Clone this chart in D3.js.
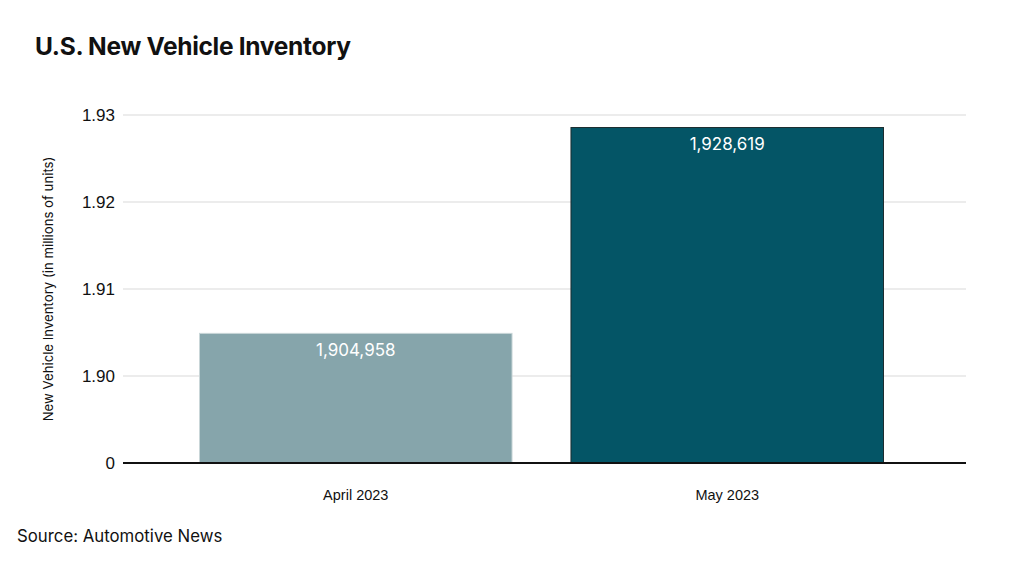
<!DOCTYPE html>
<html>
<head>
<meta charset="utf-8">
<script src="https://cdn.jsdelivr.net/npm/d3@7"></script>
<style>
  body { margin: 0; background: #fff; }
  svg { display: block; font-family: Inter, "Liberation Sans", Arial, sans-serif; }
  .grid line { stroke: #d9d9d9; stroke-width: 1; }
  .yAxis text { font-size: 17px; fill: #111; }
  .xAxis text { font-size: 14.5px; font-weight: 500; fill: #111; }
</style>
</head>
<body>
<div id="chart"></div>
<script>
// data
var categories = ["April 2023", "May 2023"];
var inventory = [1904958, 1928619];
var barColors = ["#86a5ab", "#045566"];
var barStrokes = ["#c9d6d8", "#1d2d30"];
// broken axis: the bottom tick (1.89) is printed as "0"
var tickValues = [1.89, 1.90, 1.91, 1.92, 1.93];
var tickLabels = ["0", "1.90", "1.91", "1.92", "1.93"];

var W = 1024, H = 565;
var plot = { left: 123, right: 966, top: 115, bottom: 463 };

var svg = d3.select("#chart").append("svg")
  .attr("width", W).attr("height", H);

var y = d3.scaleLinear().domain([1.89, 1.93]).range([plot.bottom, plot.top]);
var x = d3.scaleBand().domain(categories)
  .range([161.85, 921.15]).paddingInner(0.156).paddingOuter(0.1);

// gridlines
svg.append("g").attr("class", "grid")
  .selectAll("line")
  .data(tickValues.slice(1))
  .enter().append("line")
  .attr("x1", plot.left).attr("x2", plot.right)
  .attr("y1", function(d) { return y(d); })
  .attr("y2", function(d) { return y(d); });

// bars
svg.append("g").selectAll("rect")
  .data(categories)
  .enter().append("rect")
  .attr("x", function(d) { return x(d) + 0.5; })
  .attr("y", function(d, i) { return y(inventory[i] / 1e6) + 0.5; })
  .attr("width", x.bandwidth() - 1)
  .attr("height", function(d, i) { return y(1.89) - y(inventory[i] / 1e6) - 0.5; })
  .attr("fill", function(d, i) { return barColors[i]; })
  .attr("stroke", function(d, i) { return barStrokes[i]; })
  .attr("stroke-width", 1);

// value labels
svg.append("g").selectAll("text")
  .data(categories)
  .enter().append("text")
  .attr("x", function(d) { return x(d) + x.bandwidth() / 2; })
  .attr("y", function(d, i) { return y(inventory[i] / 1e6) + 23; })
  .attr("text-anchor", "middle")
  .attr("font-size", 17)
  .attr("fill", "#fff")
  .text(function(d, i) { return d3.format(",")(inventory[i]); });

// baseline
svg.append("line")
  .attr("x1", plot.left).attr("x2", plot.right)
  .attr("y1", plot.bottom).attr("y2", plot.bottom)
  .attr("stroke", "#111").attr("stroke-width", 2);

// y axis labels
var yAxis = svg.append("g").attr("class", "yAxis")
  .attr("transform", "translate(" + plot.left + ",0)")
  .call(d3.axisLeft(y).tickValues(tickValues).tickSize(0).tickPadding(8)
    .tickFormat(function(d, i) { return tickLabels[i]; }));
yAxis.select(".domain").remove();
yAxis.selectAll("text").attr("font-family", null);

// x axis labels
var xAxis = svg.append("g").attr("class", "xAxis")
  .attr("transform", "translate(0," + plot.bottom + ")")
  .call(d3.axisBottom(x).tickSize(0).tickPadding(27));
xAxis.select(".domain").remove();
xAxis.selectAll("text").attr("font-family", null);

// y axis title
svg.append("text")
  .attr("transform", "translate(53,289) rotate(-90)")
  .attr("text-anchor", "middle")
  .attr("font-size", 13.2)
  .attr("fill", "#111")
  .text("New Vehicle Inventory (in millions of units)");

// title
svg.append("text")
  .attr("x", 35).attr("y", 55)
  .attr("font-size", 24.5).attr("font-weight", 700)
  .attr("letter-spacing", -0.3)
  .attr("fill", "#111")
  .text("U.S. New Vehicle Inventory");

// source
svg.append("text")
  .attr("x", 17).attr("y", 542)
  .attr("font-size", 16.8)
  .attr("fill", "#111")
  .text("Source: Automotive News");
</script>
</body>
</html>
